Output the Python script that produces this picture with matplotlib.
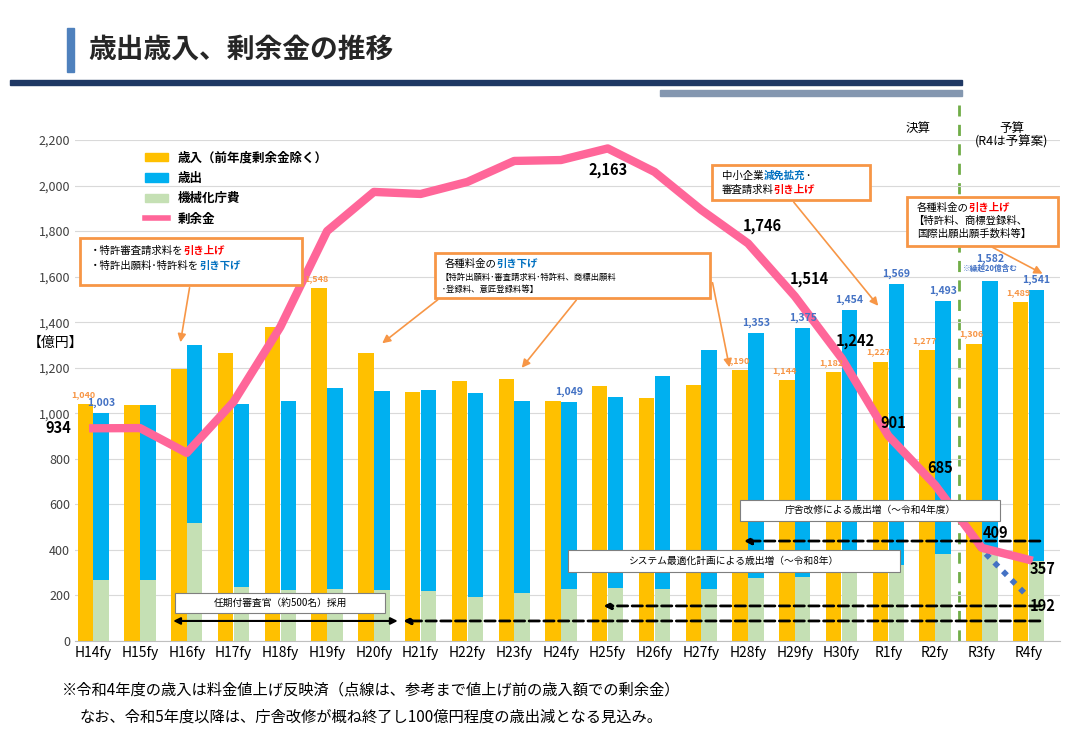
import matplotlib
matplotlib.use("Agg")
import matplotlib.pyplot as plt
from matplotlib.patches import Rectangle, Patch
from matplotlib.lines import Line2D

plt.rcParams['font.family'] = ['Noto Sans CJK JP', 'DejaVu Sans']

years = ["H14fy","H15fy","H16fy","H17fy","H18fy","H19fy","H20fy","H21fy","H22fy","H23fy",
         "H24fy","H25fy","H26fy","H27fy","H28fy","H29fy","H30fy","R1fy","R2fy","R3fy","R4fy"]
revenue = [1040,1036,1195,1265,1379,1548,1265,1094,1142,1151,1054,1120,1067,1124,1190,1144,1182,1227,1277,1306,1489]
expend = [1003,1036,1300,1041,1054,1111,1098,1102,1089,1054,1049,1072,1164,1278,1353,1375,1454,1569,1493,1582,1541]
mech = [268,268,518,237,224,230,224,220,193,211,228,233,228,228,277,281,320,334,382,400,350]
surplus = [934,935,826,1050,1379,1800,1972,1963,2016,2108,2112,2163,2060,1893,1746,1514,1242,901,685,409,357]
surplus_alt = [685,400,192]  # R2..R4, pre-fee-increase basis
rev_labels = {0:"1,040",5:"1,548",14:"1,190",15:"1,144",16:"1,182",17:"1,227",18:"1,277",19:"1,306",20:"1,489"}
exp_labels = {0:"1,003",10:"1,049",14:"1,353",15:"1,375",16:"1,454",17:"1,569",18:"1,493",19:"1,582",20:"1,541"}
sur_labels = {0:"934",11:"2,163",14:"1,746",15:"1,514",16:"1,242",17:"901",18:"685",19:"409",20:"357"}
alt_label = "192"

YEL, BLU, GRN, PNK = "#FFC000", "#00B0F0", "#C5E0B4", "#FF6699"
ORG = "#F79646"
W, H = 1084, 750

def P(x, y):
    return (x / W, 1 - y / H)

fig = plt.figure(figsize=(10.84, 7.5), dpi=100)
fig.patch.set_facecolor("white")
ax = fig.add_axes([75/W, 109/H, 985/W, 501/H])
x = list(range(len(years)))
w = 0.33
ax.bar([i-0.17 for i in x], revenue, w, color=YEL, zorder=2)
ax.bar([i+0.17 for i in x], expend, w, color=BLU, zorder=2)
ax.bar([i+0.17 for i in x], mech, w, color=GRN, zorder=3)
ax.plot(x, surplus, color=PNK, lw=6, zorder=5, solid_joinstyle='round')
ax.plot([18, 19, 20], surplus_alt, color="#4472C4", lw=4, ls=(0, (1, 1.2)), zorder=4)

ax.set_xlim(-0.39, 20.67)
ax.set_ylim(0, 2200)
ax.set_yticks(range(0, 2201, 200))
ax.set_yticklabels([f"{v:,}" for v in range(0, 2201, 200)], fontsize=9, color="#404040")
ax.set_xticks(x)
ax.set_xticklabels(years, fontsize=10)
ax.grid(axis='y', color="#D9D9D9", lw=0.8, zorder=0)
for s in ["top", "right", "left"]:
    ax.spines[s].set_visible(False)
ax.spines["bottom"].set_color("#BFBFBF")
ax.tick_params(length=0)

for i, t in rev_labels.items():
    ax.text(i-0.22, revenue[i]+22, t, ha='center', va='bottom', fontsize=6.5, color=ORG, fontweight='bold', zorder=6)
for i, t in exp_labels.items():
    dy = 75 if i == 19 else 22
    ax.text(i+0.17, expend[i]+dy, t, ha='center', va='bottom', fontsize=7.5, color="#4472C4", fontweight='bold', zorder=6)

offs = {0:(-0.75, 0), 11:(0, -130), 14:(0.3, 40), 15:(0.3, 40), 16:(0.3, 40), 17:(0.1, 20),
        18:(0.1, 40), 19:(0.3, 30), 20:(0.3, -40)}
for i, t in sur_labels.items():
    dx, dy = offs[i]
    ax.text(i+dx, surplus[i]+dy, t, ha='center', va='bottom' if i not in (0, 20) else 'center',
            fontsize=10.5, fontweight='bold', zorder=7)
ax.text(20.3, surplus_alt[2]-40, alt_label, ha='center', va='center', fontsize=10.5, fontweight='bold')

ax.axvline(18.5, color="#70AD47", ls=(0, (4, 3)), lw=2, ymax=1.07, clip_on=False, zorder=1)
fig.text(*P(918, 128), "決算", ha='center', va='center', fontsize=9)
fig.text(*P(1012, 135), "予算\n(R4は予算案)", ha='center', va='center', fontsize=9, linespacing=1.0)
fig.text(*P(990, 268), "※繰越20億含む", ha='center', va='center', fontsize=5.5, color="#4472C4", fontweight='bold')

handles = [Patch(color=YEL), Patch(color=BLU), Patch(color=GRN), Line2D([], [], color=PNK, lw=4)]
ax.legend(handles, ["歳入（前年度剰余金除く）", "歳出", "機械化庁費", "剰余金"], loc='upper left',
          bbox_to_anchor=(0.06, 1.0), frameon=False, handlelength=1.8, labelspacing=0.6,
          prop={'weight': 'bold', 'size': 9})

def rect(x0, y0, x1, y1, ec=ORG, lw=2):
    fig.patches.append(Rectangle(P(x0, y1), (x1-x0)/W, (y1-y0)/H, fc='white', ec=ec, lw=lw,
                                 transform=fig.transFigure, zorder=6))

renderer = fig.canvas.get_renderer()

def seg_line(x0, y0, parts, fs):
    cx = x0
    for t, c in parts:
        tx = fig.text(*P(cx, y0), t, color=c, fontsize=fs, va='center', ha='left',
                      fontweight='bold' if c != 'black' else 'normal', zorder=8)
        cx += tx.get_window_extent(renderer).width

def arrow(x0, y0, x1, y1):
    a = matplotlib.patches.FancyArrowPatch(P(x0, y0), P(x1, y1), transform=fig.transFigure,
                                           arrowstyle='-|>', mutation_scale=12, color=ORG, lw=1.2, zorder=7)
    fig.patches.append(a)

RED, BL2 = "red", "#0070C0"
rect(80, 238, 302, 285)
seg_line(90, 251, [("・特許審査請求料を", 'black'), ("引き上げ", RED)], 7.5)
seg_line(90, 266, [("・特許出願料･特許料を", 'black'), ("引き下げ", BL2)], 7.5)
arrow(190, 285, 180, 345)

rect(435, 253, 710, 298)
seg_line(445, 264, [("各種料金の", 'black'), ("引き下げ", BL2)], 7.5)
fig.text(*P(440, 277), "【特許出願料･審査請求料･特許料、商標出願料", fontsize=6, va='center', zorder=8)
fig.text(*P(440, 289), " ･登録料、意匠登録料等】", fontsize=6, va='center', zorder=8)
arrow(440, 298, 380, 345)
arrow(578, 298, 520, 370)
arrow(712, 280, 730, 370)

rect(712, 165, 870, 200)
seg_line(722, 176, [("中小企業", 'black'), ("減免拡充", BL2), ("･", 'black')], 7.5)
seg_line(722, 190, [("審査請求料", 'black'), ("引き上げ", RED)], 7.5)
arrow(792, 200, 880, 308)

rect(907, 197, 1058, 246)
seg_line(917, 208, [("各種料金の", 'black'), ("引き上げ", RED)], 7.5)
fig.text(*P(913, 221), "【特許料、商標登録料、", fontsize=7.5, va='center', zorder=8)
fig.text(*P(917, 234), "国際出願出願手数料等】", fontsize=7.5, va='center', zorder=8)
arrow(990, 246, 1045, 275)

# dashed arrows and notes
def darrow(x0, x1, yv):
    ax.annotate("", xy=(x1, yv), xytext=(x0, yv),
                arrowprops=dict(arrowstyle='-|>', color='black', ls='--', lw=2), zorder=6)
darrow(20.3, 13.85, 439)
darrow(20.3, 10.85, 154)
darrow(20.3, 6.57, 88)
ax.annotate("", xy=(1.65, 88), xytext=(6.57, 88),
            arrowprops=dict(arrowstyle='<|-|>', color='black', lw=1.5), zorder=6)
rect(740, 500, 1000, 521, ec='#7F7F7F', lw=0.8)
fig.text(*P(870, 510), "庁舎改修による歳出増（～令和4年度）", ha='center', va='center', fontsize=7, zorder=8)
rect(568, 550, 900, 572, ec='#7F7F7F', lw=0.8)
fig.text(*P(734, 561), "システム最適化計画による歳出増（～令和8年）", ha='center', va='center', fontsize=7, zorder=8)
rect(175, 593, 385, 613, ec='#7F7F7F', lw=0.8)
fig.text(*P(280, 603), "任期付審査官（約500名）採用", ha='center', va='center', fontsize=7, zorder=8)

# header
fig.text(*P(28, 343), "【億円】", fontsize=10, va='center')
fig.patches.append(Rectangle(P(67, 72), 7/W, 44/H, color="#4F81BD", transform=fig.transFigure))
fig.text(*P(88, 50), "歳出歳入、剰余金の推移", fontsize=20, fontweight='bold', va='center', color="#262626")
fig.patches.append(Rectangle(P(10, 85), 952/W, 5/H, color="#1F3864", transform=fig.transFigure))
fig.patches.append(Rectangle(P(660, 96), 302/W, 6/H, color="#8497B0", transform=fig.transFigure))
fig.text(*P(62, 690), "※令和4年度の歳入は料金値上げ反映済（点線は、参考まで値上げ前の歳入額での剰余金）", fontsize=11, va='center')
fig.text(*P(80, 717), "なお、令和5年度以降は、庁舎改修が概ね終了し100億円程度の歳出減となる見込み。", fontsize=11, va='center')

fig.savefig("out.png", dpi=100)
